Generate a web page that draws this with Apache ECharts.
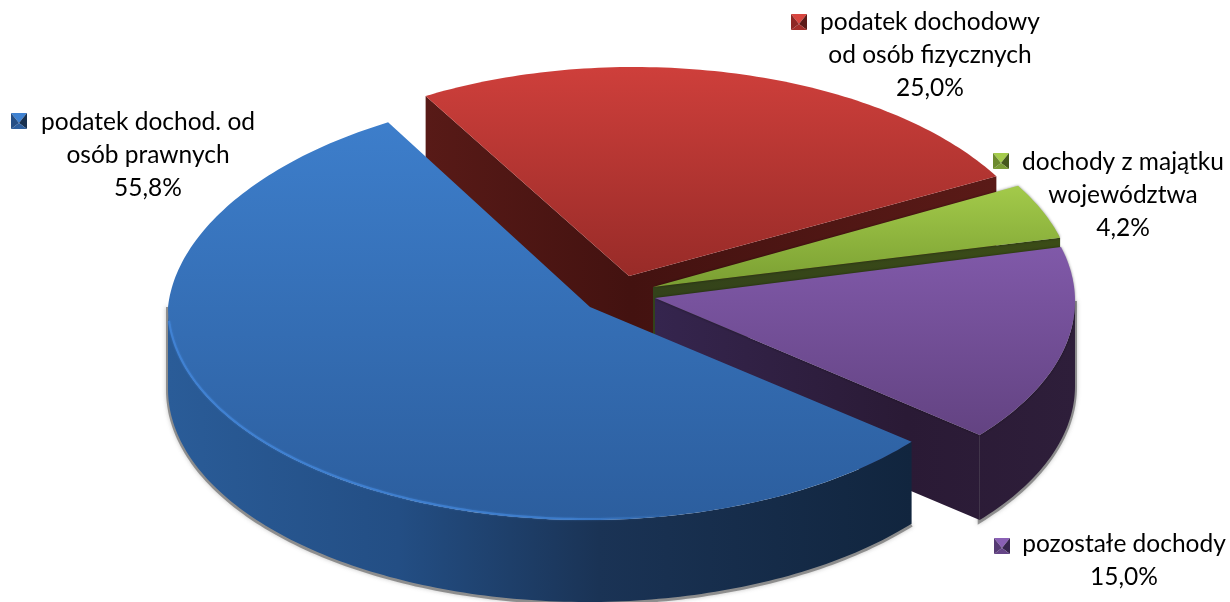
<!DOCTYPE html>
<html>
<head>
<meta charset="utf-8">
<style>
    html, body { margin: 0; padding: 0; background: #fff; }
    #main { width: 1230px; height: 602px; }
</style>
<script src="https://cdn.jsdelivr.net/npm/echarts@6/dist/echarts.min.js"></script>
</head>
<body>
<div id="main"></div>
<script>
// dane wykresu, w kolejnosci rysowania (od tylu do przodu)
const categories = [
    'podatek dochodowy\nod osób fizycznych',
    'dochody z majątku\nwojewództwa',
    'pozostałe dochody',
    'podatek dochod. od\nosób prawnych'
];
const shares = [25.0, 4.2, 15.0, 55.8];

// kat startowy pierwszego wycinka, zgodnie z ruchem wskazowek
const START_ANGLE = -119.9;

// polozenie kazdego wycinka: srodek i promienie elipsy, wierzcholek, grubosc,
// zakres gradientu scian; taper zweza tylna polowke elipsy (perspektywa)
const sliceShapes = [
    { cx: 634, cy: 285, rx: 418, ry: 218, apex: [629, 276], depth: 72, wallX: [425, 996], taper: 0 },
    { cx: 654, cy: 292, rx: 420, ry: 213, apex: [653, 287], depth: 62, wallX: [653, 1060], taper: 0 },
    { cx: 652, cy: 301, rx: 423, ry: 212, apex: [655, 298], depth: 85, wallX: [655, 1075], taper: 0 },
    { cx: 587, cy: 307, rx: 419, ry: 213, apex: [590, 307], depth: 82, wallX: [168, 912], taper: 0.055 }
];

// kolory: gora wycinka, sciany, znacznik legendy (gora, prawo, dol, lewo)
const sliceColors = [
    { top: ['#ce3f3b', '#982b28'], wall: [[0, '#581a17'], [0.36, '#431210'], [1, '#5a1a17']], mark: ['#d8453f', '#5c1a18', '#a32e2a', '#8e2825'] },
    { top: ['#a3ca4a', '#7a9f32'], wall: [[0, '#33421a'], [1, '#3b4c17']], mark: ['#a5cc4c', '#45581c', '#7a9c35', '#6d8a2e'] },
    { top: ['#8059a9', '#634382'], wall: [[0, '#35254e'], [0.6, '#2a1a35'], [1, '#2e1e3a']], mark: ['#8a60b5', '#38264f', '#654587', '#563a74'] },
    { top: ['#3d7ecb', '#2c5e9e'], wall: [[0, '#2a5c98'], [0.31, '#234e84'], [0.58, '#1a3355'], [1, '#11253e']], mark: ['#3f82d2', '#17304f', '#2c5e9e', '#264f85'] }
];

// etykiety: srodek tekstu i lewy gorny rog znacznika
const labelSpots = [
    { x: 930, y: 55, markX: 791, markY: 14 },
    { x: 1123, y: 195, markX: 993, markY: 153 },
    { x: 1124, y: 561, markX: 994, markY: 538 },
    { x: 148, y: 155, markX: 11, markY: 113 }
];

const MARK_SIZE = 16;

function toRad(a) {
    return a * Math.PI / 180;
}

// punkt na elipsie wycinka
function rimPoint(s, a, dy) {
    let sin = Math.sin(toRad(a));
    let narrow = 1 + s.taper * Math.min(sin, 0);
    return [s.cx + s.rx * Math.cos(toRad(a)) * narrow, s.cy + s.ry * sin + (dy || 0)];
}

function arcPoints(s, a0, a1, dy) {
    let pts = [];
    let steps = Math.max(2, Math.ceil(Math.abs(a1 - a0)));
    for (let i = 0; i <= steps; i++) {
        pts.push(rimPoint(s, a0 + (a1 - a0) * i / steps, dy));
    }
    return pts;
}

// sciana przekroju
function cutFace(s, a, fill) {
    let v = rimPoint(s, a);
    return {
        type: 'polygon',
        shape: { points: [s.apex, v, [v[0], v[1] + s.depth], [s.apex[0], s.apex[1] + s.depth]] },
        style: { fill: fill }
    };
}

function sliceAngles(index) {
    let total = shares.reduce(function (a, b) { return a + b; }, 0);
    let before = shares.slice(0, index).reduce(function (a, b) { return a + b; }, 0);
    return [
        START_ANGLE + before / total * 360,
        START_ANGLE + (before + shares[index]) / total * 360
    ];
}

function renderSlice(params, api) {
    let i = params.dataIndex;
    let s = sliceShapes[i];
    let c = sliceColors[i];
    let spot = labelSpots[i];
    let angles = sliceAngles(i);
    let a0 = angles[0], a1 = angles[1];
    let children = [];

    let wallFill = {
        type: 'linear', global: true,
        x: s.wallX[0], y: 0, x2: s.wallX[1], y2: 0,
        colorStops: c.wall.map(function (st) { return { offset: st[0], color: st[1] }; })
    };

    let lo = Math.max(a0, 0), hi = Math.min(a1, 180);

    // cien pod dolna krawedzia sciany
    if (hi > lo) {
        children.push({
            type: 'polyline',
            shape: { points: [rimPoint(s, hi)].concat(arcPoints(s, hi, lo, s.depth + 1), a0 < 0 ? [rimPoint(s, lo)] : []) },
            style: {
                fill: null,
                stroke: 'rgba(90,90,90,0.6)',
                lineWidth: 4,
                shadowBlur: 4,
                shadowColor: 'rgba(90,90,90,0.6)'
            }
        });
    }

    // sciany przekroju, tylko te zwrocone do patrzacego
    if (Math.cos(toRad(a0)) < 0) {
        children.push(cutFace(s, a0, wallFill));
    }
    if (Math.cos(toRad(a1)) > 0) {
        children.push(cutFace(s, a1, wallFill));
    }
    // sciana zewnetrzna
    if (hi > lo) {
        children.push({
            type: 'polygon',
            shape: { points: arcPoints(s, lo, hi, 0).concat(arcPoints(s, hi, lo, s.depth)) },
            style: { fill: wallFill }
        });
    }

    // gora wycinka
    let topPts = [s.apex].concat(arcPoints(s, a0, a1, 0));
    let ys = topPts.map(function (p) { return p[1]; });
    let topStyle = {
        fill: {
            type: 'linear', global: true,
            x: 0, y: Math.min.apply(null, ys), x2: 0, y2: Math.max.apply(null, ys),
            colorStops: [{ offset: 0, color: c.top[0] }, { offset: 1, color: c.top[1] }]
        }
    };
    if (i === 1 || i === 2) {
        topStyle.shadowBlur = 3;
        topStyle.shadowColor = 'rgba(0,0,0,0.45)';
    }
    children.push({ type: 'polygon', shape: { points: topPts }, style: topStyle });

    // jasna krawedz na przodzie duzego wycinka
    if (i === 3) {
        children.push({
            type: 'polyline',
            shape: { points: arcPoints(s, lo, hi - 4, -1) },
            style: {
                fill: null,
                lineWidth: 2,
                shadowBlur: 2,
                shadowColor: 'rgba(64,130,212,0.8)',
                stroke: {
                    type: 'linear', global: true,
                    x: s.cx - s.rx, y: 0, x2: s.cx + s.rx * 0.2, y2: 0,
                    colorStops: [
                        { offset: 0, color: 'rgba(64,130,212,0.95)' },
                        { offset: 0.8, color: 'rgba(64,130,212,0.7)' },
                        { offset: 1, color: 'rgba(64,130,212,0)' }
                    ]
                }
            }
        });
    }

    // znacznik legendy: cztery trojkaty
    let x = spot.markX, y = spot.markY, m = MARK_SIZE;
    let mid = [x + m / 2, y + m * 0.62];
    let corners = [[x, y], [x + m, y], [x + m, y + m], [x, y + m]];
    corners.forEach(function (corner, k) {
        children.push({
            type: 'polygon',
            shape: { points: [corner, corners[(k + 1) % 4], mid] },
            style: { fill: c.mark[k] }
        });
    });

    // etykieta
    children.push({
        type: 'text',
        style: {
            text: categories[i] + '\n' + api.value(0).toFixed(1).replace('.', ',') + '%',
            x: spot.x,
            y: spot.y,
            align: 'center',
            verticalAlign: 'middle',
            font: '24.5px Lato',
            lineHeight: 33,
            fill: '#000'
        }
    });

    return { type: 'group', children: children };
}

const chartDom = document.getElementById('main');
const myChart = echarts.init(chartDom);

const option = {
    animation: false,
    backgroundColor: '#fff',
    series: [
        {
            type: 'custom',
            coordinateSystem: 'none',
            renderItem: renderSlice,
            data: shares
        }
    ]
};

myChart.setOption(option);
</script>
</body>
</html>
